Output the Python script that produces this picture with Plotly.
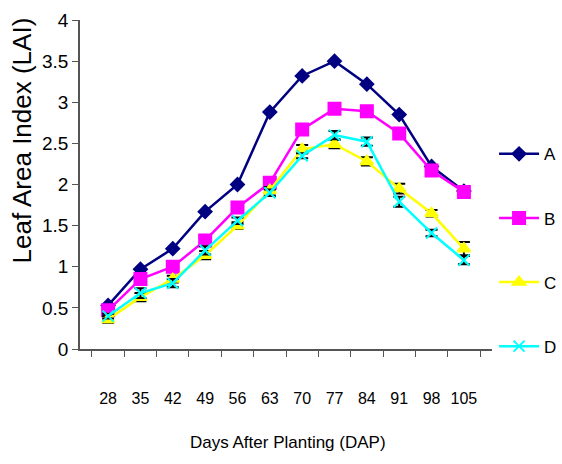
import plotly.graph_objects as go

days = ["28", "35", "42", "49", "56", "63", "70", "77", "84", "91", "98", "105"]
A = [0.53, 0.97, 1.22, 1.67, 2.00, 2.88, 3.32, 3.50, 3.22, 2.85, 2.22, 1.92]
B = [0.47, 0.85, 1.00, 1.32, 1.72, 2.02, 2.67, 2.92, 2.89, 2.62, 2.17, 1.91]
C = [0.36, 0.63, 0.85, 1.14, 1.50, 1.93, 2.43, 2.49, 2.28, 1.95, 1.65, 1.22]
D = [0.40, 0.68, 0.80, 1.20, 1.56, 1.90, 2.35, 2.60, 2.52, 1.79, 1.41, 1.08]
C_err = [0.04, 0.05, 0.04, 0.05, 0.04, 0.04, 0.05, 0.05, 0.05, 0.06, 0.04, 0.08]
D_err = [0.03, 0.06, 0.05, 0.05, 0.04, 0.04, 0.03, 0.05, 0.05, 0.06, 0.04, 0.05]

series = [
    ("A", A, None, "#000080", "diamond", 10),
    ("B", B, None, "#FF00FF", "square", 12),
    ("C", C, C_err, "#FFFF00", "triangle-up", 11),
    ("D", D, D_err, "#00FFFF", "x-thin-open", 11),
]

font_fam = "Liberation Sans, Arial, sans-serif"

fig = go.Figure()
for name, vals, err, col, sym, size in series:
    kw = {}
    if err is not None:
        kw["error_y"] = dict(type="data", array=err, color="black", thickness=2, width=6)
    fig.add_trace(go.Scatter(
        x=days, y=vals, name=name, mode="lines+markers",
        line=dict(color=col, width=2.5),
        marker=dict(symbol=sym, size=size, color=col, line=dict(color=col, width=2)),
        legendgroup=name, **kw,
    ))

fig.update_layout(
    width=562, height=464,
    margin=dict(l=80, r=70, t=20, b=115, autoexpand=False),
    paper_bgcolor="white", plot_bgcolor="white",
    font=dict(family=font_fam, color="black", size=17),
    showlegend=True,
    legend=dict(x=1.005, y=0.30, xanchor="left", yanchor="middle",
                tracegroupgap=39, font=dict(size=17, family=font_fam),
                itemwidth=40, bgcolor="rgba(0,0,0,0)", borderwidth=0),
    xaxis=dict(
        type="category", showline=True, linecolor="#555", linewidth=1.5,
        ticks="outside", ticklen=6, tickcolor="#555", tickson="boundaries",
        showgrid=False, zeroline=False, ticklabelstandoff=34, tickangle=0,
        tickfont=dict(size=16, family=font_fam), automargin=False,
    ),
    yaxis=dict(
        range=[0, 4], dtick=0.5, showline=True, linecolor="#555", linewidth=1.5,
        ticks="outside", ticklen=6, tickcolor="#555", showgrid=False, zeroline=False,
        tickfont=dict(size=19, family=font_fam), automargin=False,
    ),
    annotations=[
        dict(text="Days After Planting (DAP)", xref="paper", yref="paper",
             x=0.505, y=-0.285, xanchor="center", yanchor="middle", showarrow=False,
             font=dict(size=17, family=font_fam)),
        dict(text="Leaf Area Index (LAI)", xref="paper", yref="paper",
             x=-0.14, y=0.635, xanchor="center", yanchor="middle", showarrow=False,
             textangle=-90, font=dict(size=26, family=font_fam)),
    ],
)

fig.write_html("out.html", config={"displayModeBar": False},
               post_script="document.body.style.margin='0';")
